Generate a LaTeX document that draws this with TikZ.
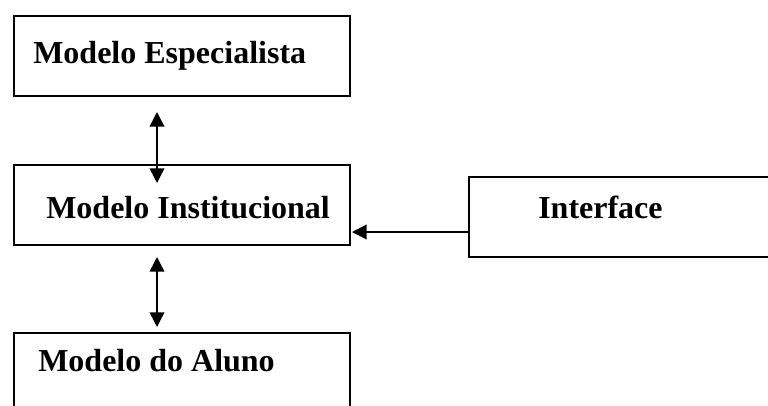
\documentclass[tikz,border=0pt]{standalone}
\usepackage{fontspec}
\setmainfont{Liberation Serif}
\usetikzlibrary{arrows.meta}
\begin{document}
\begin{tikzpicture}[x=0.75pt,y=-0.75pt,
  box/.style={draw=black,line width=1.5pt,rectangle,inner sep=0pt,minimum height=80*0.75pt},
  lbl/.style={anchor=base west,inner sep=0pt,font=\fontsize{24pt}{28pt}\selectfont\bfseries},
  conn/.style={line width=1.1pt,{Triangle[length=11pt,width=11pt]}-{Triangle[length=11pt,width=11pt]}},
  conn1/.style={line width=1.1pt,-{Triangle[length=11pt,width=11pt]}}]
\useasboundingbox (0,0) rectangle (768,405);
\begin{scope}
\clip (0,0) rectangle (768,405);
\node[box,minimum width=336*0.75pt] (b1) at (182,56) {};
\node[box,minimum width=336*0.75pt] (b2) at (182,205) {};
\node[box,minimum width=336*0.75pt] (b3) at (182,373) {};
\node[box,minimum width=331*0.75pt] (b4) at (634.5,217) {};
\end{scope}
\node[lbl] (t1) at (33,63) {Modelo Especialista};
\node[lbl] (t2) at (46,218) {Modelo Institucional};
\node[lbl] (t3) at (38,371) {Modelo do Aluno};
\node[lbl] (t4) at (538,218) {Interface};
\coordinate (a1t) at (157,112);
\coordinate (a1b) at (157,183);
\coordinate (a2t) at (157,257);
\coordinate (a2b) at (157,327);
\coordinate (a3s) at (b4.west |- 0,232);
\coordinate (a3e) at (352,232);
\draw[conn] (a1t) -- (a1b);
\draw[conn] (a2t) -- (a2b);
\draw[conn1] (a3s) -- (a3e);
\end{tikzpicture}
\end{document}
